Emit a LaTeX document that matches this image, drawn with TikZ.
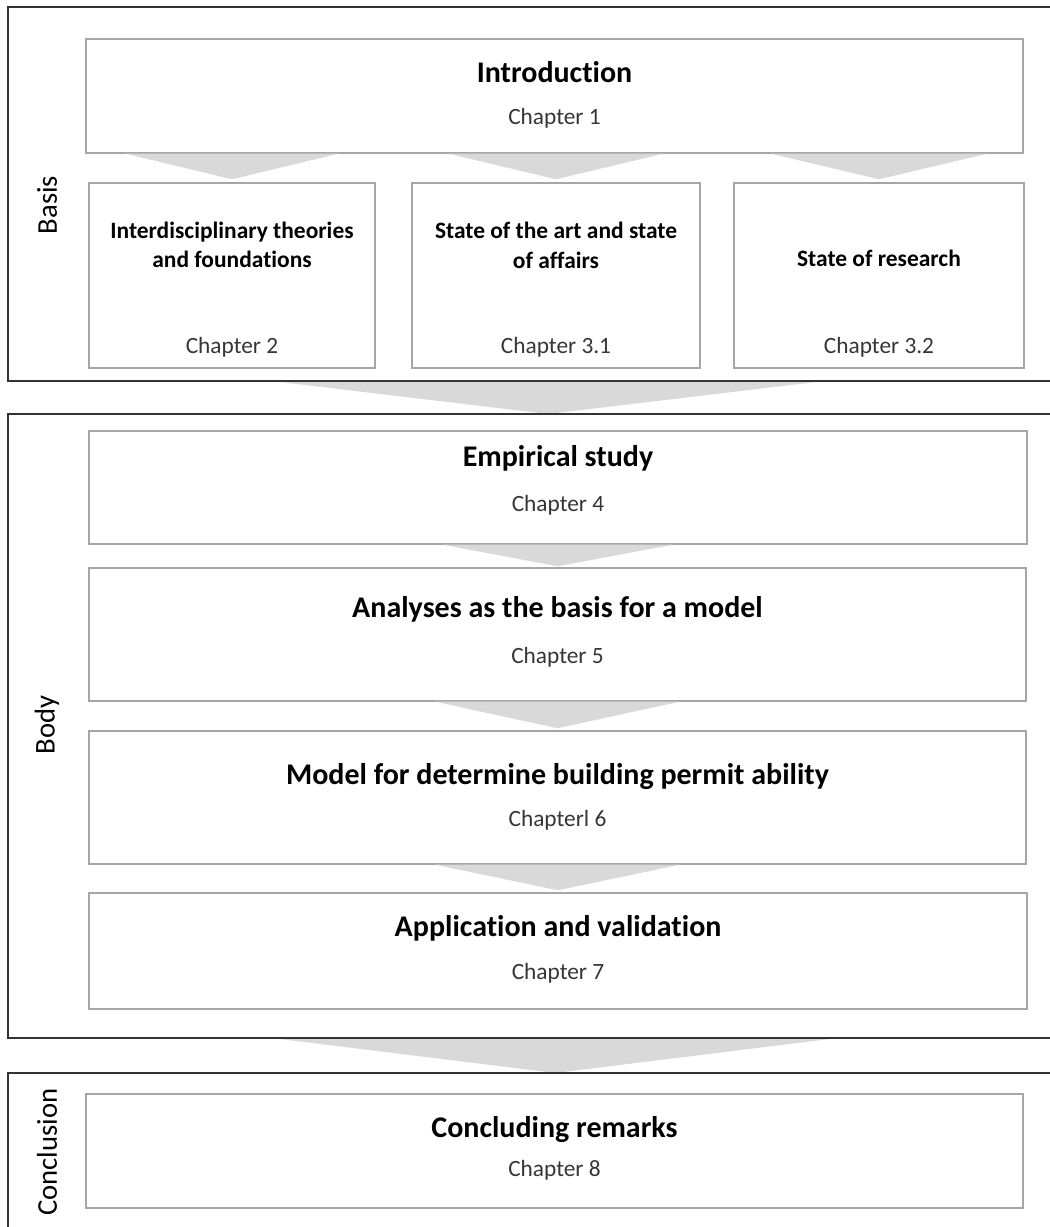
\documentclass[tikz,border=0pt]{standalone}
\usepackage{fontspec}
\setmainfont{Carlito}[Ligatures=NoCommon]
\usetikzlibrary{calc}
\newdimen\px
\px=0.75pt
\definecolor{framecol}{HTML}{333333}
\definecolor{boxcol}{HTML}{A6A6A6}
\definecolor{arrowcol}{HTML}{D9D9D9}
\definecolor{subcol}{HTML}{363636}
\tikzset{
  frame/.style={draw=framecol, line width=1.3pt},
  chapbox/.style={draw=boxcol, line width=1.1pt, fill=white, inner sep=0pt},
  title/.style={font=\bfseries\fontsize{22.5}{27}\selectfont, text=black, inner sep=0pt},
  smalltitle/.style={font=\bfseries\fontsize{17.6}{22}\selectfont, text=black, inner sep=0pt, align=center},
  chap/.style={font=\fontsize{17.5}{21}\selectfont, text=subcol, inner sep=0pt},
  side/.style={font=\fontsize{21.5}{26}\selectfont, text=black, rotate=90, inner sep=0pt},
  flow/.style={fill=arrowcol, draw=none}
}
\begin{document}
\begin{tikzpicture}[x=0.75pt,y=-0.75pt]
\useasboundingbox (0,0) rectangle (1049,1227);
\fill[white] (0,0) rectangle (1049,1227);

% outer section frames, open to the right
\draw[frame] (1060,7) -- (8,7) -- (8,381) -- (1060,381);
\draw[frame] (1060,414) -- (8,414) -- (8,1038) -- (1060,1038);
\draw[frame] (1060,1073) -- (8,1073) -- (8,1240);

% chapter boxes
\node[chapbox, minimum width=937\px, minimum height=114\px] (intro) at (554.5,96) {};
\node[chapbox, minimum width=286\px, minimum height=185\px] (ch2) at (232,275.5) {};
\node[chapbox, minimum width=288\px, minimum height=185\px] (ch31) at (556,275.5) {};
\node[chapbox, minimum width=290\px, minimum height=185\px] (ch32) at (879,275.5) {};
\node[chapbox, minimum width=938\px, minimum height=113\px] (emp) at (558,487.5) {};
\node[chapbox, minimum width=937\px, minimum height=133\px] (ana) at (557.5,634.5) {};
\node[chapbox, minimum width=937\px, minimum height=133\px] (mod) at (557.5,797.5) {};
\node[chapbox, minimum width=938\px, minimum height=116\px] (app) at (558,951) {};
\node[chapbox, minimum width=937\px, minimum height=114\px] (conc) at (554.5,1151) {};

% flow wedges between boxes
\fill[flow] ($(ch2.north|-intro.south)+(-106,0)$) -- ($(ch2.north|-intro.south)+(106,0)$) -- ($(ch2.north)+(0,-3)$) -- cycle;
\fill[flow] ($(ch31.north|-intro.south)+(-107,0)$) -- ($(ch31.north|-intro.south)+(107,0)$) -- ($(ch31.north)+(0,-3)$) -- cycle;
\fill[flow] ($(ch32.north|-intro.south)+(-108,0)$) -- ($(ch32.north|-intro.south)+(108,0)$) -- ($(ch32.north)+(0,-3)$) -- cycle;
\coordinate (basisbot) at (548,381);
\coordinate (bodytop) at (548,414);
\fill[flow] ($(basisbot)+(-268,1)$) -- ($(basisbot)+(268,1)$) -- (bodytop) -- cycle;
\fill[flow] ($(emp.south)+(-115,0)$) -- ($(emp.south)+(115,0)$) -- ($(ana.north)+(0,-1)$) -- cycle;
\fill[flow] ($(ana.south)+(-122,0)$) -- ($(ana.south)+(122,0)$) -- ($(mod.north)+(0,-2)$) -- cycle;
\fill[flow] ($(mod.south)+(-122,0)$) -- ($(mod.south)+(122,0)$) -- ($(app.north)+(0,-2)$) -- cycle;
\coordinate (bodybot) at (555,1038);
\coordinate (conctop) at (555,1073);
\fill[flow] ($(bodybot)+(-275,1)$) -- ($(bodybot)+(275,1)$) -- (conctop) -- cycle;

% redraw the frame edges over the wedges
\draw[frame] (1060,381) -- (8,381);
\draw[frame] (1060,414) -- (8,414);
\draw[frame] (1060,1038) -- (8,1038);
\draw[frame] (1060,1073) -- (8,1073);

% box texts
\node[title] (intro-t) at (554.5,72) {Introduction};
\node[chap] (intro-c) at (554.5,118) {Chapter 1};
\node[smalltitle] (ch2-t) at (232,245) {Interdisciplinary theories\\and foundations};
\node[chap] (ch2-c) at (232,347) {Chapter 2};
\node[smalltitle] (ch31-t) at (556,245.5) {State of the art and state\\of affairs};
\node[chap] (ch31-c) at (556,347) {Chapter 3.1};
\node[smalltitle] (ch32-t) at (879,258) {State of research};
\node[chap] (ch32-c) at (879,347) {Chapter 3.2};
\node[title] (emp-t) at (558,458) {Empirical study};
\node[chap] (emp-c) at (558,505) {Chapter 4};
\node[title] (ana-t) at (557.5,609) {Analyses as the basis for a model};
\node[chap] (ana-c) at (557.5,657) {Chapter 5};
\node[title] (mod-t) at (557.5,777) {Model for determine building permit ability};
\node[chap] (mod-c) at (557.5,820) {Chapterl 6};
\node[title] (app-t) at (558,928) {Application and validation};
\node[chap] (app-c) at (558,973) {Chapter 7};
\node[title] (conc-t) at (554.5,1130) {Concluding remarks};
\node[chap] (conc-c) at (554.5,1170) {Chapter 8};

% section labels
\node[side] (basis) at (47,205) {Basis};
\node[side] (body) at (47,725) {Body};
\node[side] (conclusion) at (47,1152) {Conclusion};
\end{tikzpicture}
\end{document}
